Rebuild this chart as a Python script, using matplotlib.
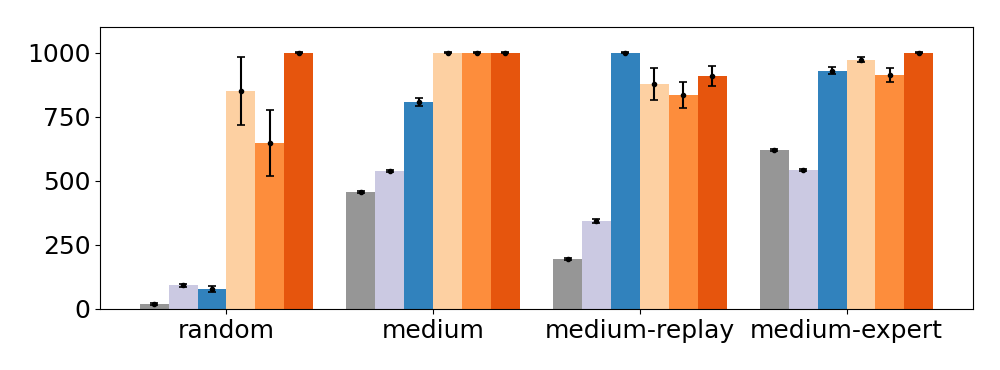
import numpy as np
import matplotlib
matplotlib.use("Agg")
import matplotlib.pyplot as plt

datasets = ["random", "medium", "medium-replay", "medium-expert"]
colors = ["#969696", "#cbc9e2", "#3182bd", "#fdd0a2", "#fd8d3c", "#e6550d"]

# one list per method, values per dataset
means = [
    [20, 456, 194, 621],
    [92, 538, 343, 542],
    [78, 808, 1000, 930],
    [851, 1000, 879, 973],
    [647, 1000, 835, 913],
    [1000, 1000, 910, 1000],
]
errs = [
    [3, 4, 4, 4],
    [6, 4, 6, 4],
    [11, 15, 3, 13],
    [133, 3, 62, 10],
    [130, 3, 51, 27],
    [2, 3, 39, 2],
]

width = 0.14
x = np.arange(len(datasets))

fig = plt.figure(figsize=(10, 3.7), dpi=100)
ax = fig.add_axes([0.1, 0.165, 0.873, 0.762])

for i, (m, e) in enumerate(zip(means, errs)):
    pos = x + (i - 2.5) * width
    ax.bar(pos, m, width, color=colors[i])
    ax.errorbar(pos, m, yerr=e, fmt="o", color="black", markersize=3,
                capsize=3, elinewidth=1.5, capthick=1.2)

ax.set_ylim(0, 1100)
ax.set_yticks([0, 250, 500, 750, 1000])
ax.set_xticks(x)
ax.set_xticklabels(datasets)
ax.tick_params(labelsize=18)

fig.savefig("out.png", dpi=100)
plt.close(fig)
